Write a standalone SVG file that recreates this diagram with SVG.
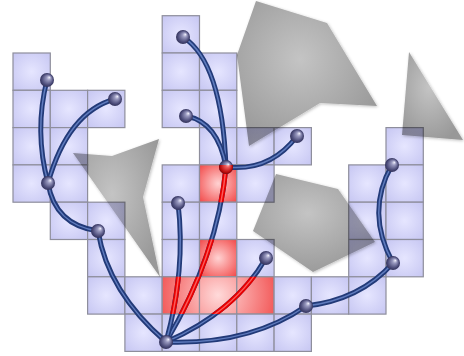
<svg xmlns="http://www.w3.org/2000/svg" xmlns:xlink="http://www.w3.org/1999/xlink" width="464" height="356" viewBox="0 0 464 356">
<style>
.c{fill:url(#gb);stroke:#8e8e9c;stroke-width:1.2}
.cr{fill:url(#gr);stroke:#8e8e9c;stroke-width:1.2}
.crr{fill:url(#grr);stroke:#8e8e9c;stroke-width:1.2}
.poly{fill:url(#gp);mix-blend-mode:multiply;filter:url(#sh)}
.e{fill:none;stroke:#223a78;stroke-width:5;stroke-linecap:round}
.eh{fill:none;stroke:#6f8cd0;stroke-width:1.5;stroke-linecap:round;opacity:.8}
.r{fill:none;stroke:#e80000;stroke-width:5;stroke-linecap:round}
.rh{fill:none;stroke:#ff7070;stroke-width:1.5;stroke-linecap:round;opacity:.8}
.b{fill:url(#gball)}
.br{fill:url(#gballr)}
</style>
<defs>
<radialGradient id="gb" cx="0.5" cy="0.5" r="0.7">
<stop offset="0" stop-color="#e6e6ff"/>
<stop offset="1" stop-color="#c6c6f2"/>
</radialGradient>
<radialGradient id="gr" cx="0.5" cy="0.5" r="0.7">
<stop offset="0" stop-color="#ffd2d2"/>
<stop offset="1" stop-color="#f24848"/>
</radialGradient>
<radialGradient id="grr" gradientUnits="userSpaceOnUse" cx="218" cy="295" r="70">
<stop offset="0" stop-color="#ffdada"/>
<stop offset="1" stop-color="#f04040"/>
</radialGradient>
<radialGradient id="gp" cx="0.45" cy="0.4" r="0.65">
<stop offset="0" stop-color="#c4c4c4"/>
<stop offset="1" stop-color="#989898"/>
</radialGradient>
<radialGradient id="gball" cx="0.5" cy="0.5" r="0.5" fx="0.68" fy="0.3">
<stop offset="0" stop-color="#f4f4ff"/>
<stop offset="0.3" stop-color="#9a9ac0"/>
<stop offset="0.8" stop-color="#4a4a78"/>
<stop offset="1" stop-color="#33335a"/>
</radialGradient>
<radialGradient id="gballr" cx="0.5" cy="0.5" r="0.5" fx="0.68" fy="0.3">
<stop offset="0" stop-color="#ffe0e0"/>
<stop offset="0.3" stop-color="#f06060"/>
<stop offset="0.8" stop-color="#c01010"/>
<stop offset="1" stop-color="#900000"/>
</radialGradient>
<filter id="sh" x="-10%" y="-10%" width="120%" height="120%">
<feGaussianBlur in="SourceAlpha" stdDeviation="1.5"/>
<feOffset dx="1" dy="1" result="o"/>
<feFlood flood-color="#000" flood-opacity="0.25"/>
<feComposite in2="o" operator="in"/>
<feMerge><feMergeNode/><feMergeNode in="SourceGraphic"/></feMerge>
</filter>
<clipPath id="redclip">
<rect x="199.5" y="164.9" width="37.3" height="37.3"/>
<rect x="199.5" y="239.5" width="37.3" height="37.3"/>
<rect x="162.2" y="276.8" width="111.9" height="37.3"/>
</clipPath>
<path id="p1" d="M47,80 Q34,131 48,183"/>
<path id="p2" d="M115,99 Q68,112 48,183"/>
<path id="p3" d="M48,183 Q55,225 98,231"/>
<path id="p4" d="M98,231 Q108,292 166,342"/>
<path id="p5" d="M183,37 Q222,62 226,167"/>
<path id="p6" d="M186,116 Q218,122 226,167"/>
<path id="p7" d="M297,136 Q270,172 226,167"/>
<path id="p8" d="M226,167 Q218,254 166,342"/>
<path id="p9" d="M178,203 Q186,270 166,342"/>
<path id="p10" d="M266,258 Q235,312 166,342"/>
<path id="p11" d="M306,306 Q250,345 166,342"/>
<path id="p12" d="M306,306 Q360,300 393,263"/>
<path id="p13" d="M393,263 Q365,212 392,165"/>
</defs>
<rect width="464" height="356" fill="#fff"/>
<g id="cells">
<rect class="c" x="162.2" y="15.7" width="37.3" height="37.3"/>
<rect class="c" x="13" y="53" width="37.3" height="37.3"/>
<rect class="c" x="162.2" y="53" width="37.3" height="37.3"/>
<rect class="c" x="199.5" y="53" width="37.3" height="37.3"/>
<rect class="c" x="13" y="90.3" width="37.3" height="37.3"/>
<rect class="c" x="50.3" y="90.3" width="37.3" height="37.3"/>
<rect class="c" x="87.6" y="90.3" width="37.3" height="37.3"/>
<rect class="c" x="162.2" y="90.3" width="37.3" height="37.3"/>
<rect class="c" x="199.5" y="90.3" width="37.3" height="37.3"/>
<rect class="c" x="13" y="127.6" width="37.3" height="37.3"/>
<rect class="c" x="50.3" y="127.6" width="37.3" height="37.3"/>
<rect class="c" x="199.5" y="127.6" width="37.3" height="37.3"/>
<rect class="c" x="236.8" y="127.6" width="37.3" height="37.3"/>
<rect class="c" x="274.1" y="127.6" width="37.3" height="37.3"/>
<rect class="c" x="386" y="127.6" width="37.3" height="37.3"/>
<rect class="c" x="13" y="164.9" width="37.3" height="37.3"/>
<rect class="c" x="50.3" y="164.9" width="37.3" height="37.3"/>
<rect class="c" x="162.2" y="164.9" width="37.3" height="37.3"/>
<rect class="cr" x="199.5" y="164.9" width="37.3" height="37.3"/>
<rect class="c" x="236.8" y="164.9" width="37.3" height="37.3"/>
<rect class="c" x="348.7" y="164.9" width="37.3" height="37.3"/>
<rect class="c" x="386" y="164.9" width="37.3" height="37.3"/>
<rect class="c" x="50.3" y="202.2" width="37.3" height="37.3"/>
<rect class="c" x="87.6" y="202.2" width="37.3" height="37.3"/>
<rect class="c" x="162.2" y="202.2" width="37.3" height="37.3"/>
<rect class="c" x="199.5" y="202.2" width="37.3" height="37.3"/>
<rect class="c" x="348.7" y="202.2" width="37.3" height="37.3"/>
<rect class="c" x="386" y="202.2" width="37.3" height="37.3"/>
<rect class="c" x="87.6" y="239.5" width="37.3" height="37.3"/>
<rect class="c" x="162.2" y="239.5" width="37.3" height="37.3"/>
<rect class="cr" x="199.5" y="239.5" width="37.3" height="37.3"/>
<rect class="c" x="236.8" y="239.5" width="37.3" height="37.3"/>
<rect class="c" x="348.7" y="239.5" width="37.3" height="37.3"/>
<rect class="c" x="386" y="239.5" width="37.3" height="37.3"/>
<rect class="c" x="87.6" y="276.8" width="37.3" height="37.3"/>
<rect class="c" x="124.9" y="276.8" width="37.3" height="37.3"/>
<rect class="crr" x="162.2" y="276.8" width="37.3" height="37.3"/>
<rect class="crr" x="199.5" y="276.8" width="37.3" height="37.3"/>
<rect class="crr" x="236.8" y="276.8" width="37.3" height="37.3"/>
<rect class="c" x="274.1" y="276.8" width="37.3" height="37.3"/>
<rect class="c" x="311.4" y="276.8" width="37.3" height="37.3"/>
<rect class="c" x="348.7" y="276.8" width="37.3" height="37.3"/>
<rect class="c" x="124.9" y="314.1" width="37.3" height="37.3"/>
<rect class="c" x="162.2" y="314.1" width="37.3" height="37.3"/>
<rect class="c" x="199.5" y="314.1" width="37.3" height="37.3"/>
<rect class="c" x="236.8" y="314.1" width="37.3" height="37.3"/>
<rect class="c" x="274.1" y="314.1" width="37.3" height="37.3"/>
</g>
<g id="obstacles">
<polygon class="poly" points="256,1 327,23 377,106 320,103 249,146 237,55"/>
<polygon class="poly" points="73,153 112,156 159,139 143,197 160,277"/>
<polygon class="poly" points="276,174 338,189 375,242 313,272 253,231"/>
<polygon class="poly" points="409,52 463,140 402,135"/>
</g>
<g id="connectors">
<use href="#p1" class="e"/><use href="#p1" class="eh"/>
<use href="#p2" class="e"/><use href="#p2" class="eh"/>
<use href="#p3" class="e"/><use href="#p3" class="eh"/>
<use href="#p4" class="e"/><use href="#p4" class="eh"/>
<use href="#p5" class="e"/><use href="#p5" class="eh"/>
<use href="#p6" class="e"/><use href="#p6" class="eh"/>
<use href="#p7" class="e"/><use href="#p7" class="eh"/>
<use href="#p8" class="e"/><use href="#p8" class="eh"/>
<use href="#p9" class="e"/><use href="#p9" class="eh"/>
<use href="#p10" class="e"/><use href="#p10" class="eh"/>
<use href="#p11" class="e"/><use href="#p11" class="eh"/>
<use href="#p12" class="e"/><use href="#p12" class="eh"/>
<use href="#p13" class="e"/><use href="#p13" class="eh"/>
<g clip-path="url(#redclip)">
<use href="#p8" class="r"/><use href="#p8" class="rh"/>
<use href="#p9" class="r"/><use href="#p9" class="rh"/>
<use href="#p10" class="r"/><use href="#p10" class="rh"/>
<use href="#p11" class="r"/><use href="#p11" class="rh"/>
</g>
</g>
<g id="n1"><circle class="b" cx="47" cy="80" r="7"/></g>
<g id="n2"><circle class="b" cx="115" cy="99" r="7"/></g>
<g id="n3"><circle class="b" cx="48" cy="183" r="7"/></g>
<g id="n4"><circle class="b" cx="98" cy="231" r="7"/></g>
<g id="n5"><circle class="b" cx="166" cy="342" r="7"/></g>
<g id="n6"><circle class="b" cx="183" cy="37" r="7"/></g>
<g id="n7"><circle class="b" cx="186" cy="116" r="7"/></g>
<g id="n8"><circle class="b" cx="226" cy="167" r="7"/><circle class="br" cx="226" cy="167" r="7" clip-path="url(#redclip)"/></g>
<g id="n9"><circle class="b" cx="297" cy="136" r="7"/></g>
<g id="n10"><circle class="b" cx="178" cy="203" r="7"/></g>
<g id="n11"><circle class="b" cx="266" cy="258" r="7"/></g>
<g id="n12"><circle class="b" cx="306" cy="306" r="7"/></g>
<g id="n13"><circle class="b" cx="393" cy="263" r="7"/></g>
<g id="n14"><circle class="b" cx="392" cy="165" r="7"/></g>
</svg>
